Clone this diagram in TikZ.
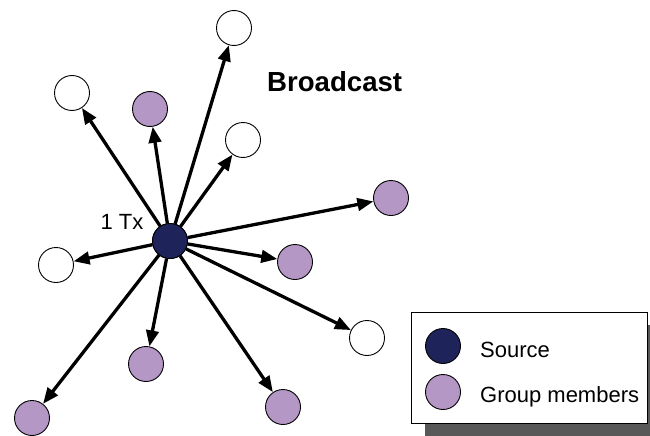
\documentclass[tikz,border=0pt]{standalone}
\usepackage{fontspec}
\setmainfont{Liberation Sans}
\usetikzlibrary{arrows.meta}

\definecolor{srcnavy}{RGB}{30,36,89}
\definecolor{memberpurple}{RGB}{181,151,198}
\definecolor{shadowgray}{RGB}{88,88,88}

\tikzset{
  station/.style={circle, draw=black, line width=0.9pt, minimum size=35pt, inner sep=0pt},
  idle/.style={station, fill=white},
  member/.style={station, fill=memberpurple},
  source/.style={station, fill=srcnavy},
  tx/.style={line width=3.3pt, -{Triangle[length=16pt,width=12.5pt]}},
  lbl/.style={font=\fontsize{22}{26}\selectfont, inner sep=0pt}
}

\begin{document}
\begin{tikzpicture}[x=1pt, y=-1pt]
  \useasboundingbox (0,0) rectangle (650,436);

  % transmitting station
  \node[source] (src) at (170,241) {};

  % receivers
  \node[idle]   (n1)  at (234,28)  {};
  \node[idle]   (n2)  at (72,93)   {};
  \node[member] (n3)  at (150,109) {};
  \node[idle]   (n4)  at (243,140) {};
  \node[member] (n5)  at (391,198) {};
  \node[idle]   (n6)  at (56,265)  {};
  \node[member] (n7)  at (295,262) {};
  \node[idle]   (n8)  at (367,338) {};
  \node[member] (n9)  at (146,364) {};
  \node[member] (n10) at (32,418)  {};
  \node[member] (n11) at (283,407) {};

  % one transmission reaching every station
  \foreach \t in {n1,n2,n3,n4,n5,n6,n7,n8,n9,n10,n11}
    \draw[tx] (src) -- (\t);

  % redraw the source on top of the arrow tails
  \node[source] at (src) {};

  \node[lbl, anchor=base] (txlabel) at (122,229) {1 Tx};
  \node[font=\fontsize{27.6}{31}\selectfont\bfseries, inner sep=0pt, anchor=base west] (title) at (267,92) {Broadcast};

  % legend
  \fill[shadowgray] (425,325) rectangle (650,436);
  \draw[fill=white, line width=0.8pt] (411,312) rectangle (647,423);
  \node[source] (lsrc) at (443,346) {};
  \node[member] (lmem) at (443,392) {};
  \node[lbl, anchor=west] (lsrctext) at (480,350) {Source};
  \node[lbl, anchor=west] (lmemtext) at (480,397) {Group members};
\end{tikzpicture}
\end{document}
